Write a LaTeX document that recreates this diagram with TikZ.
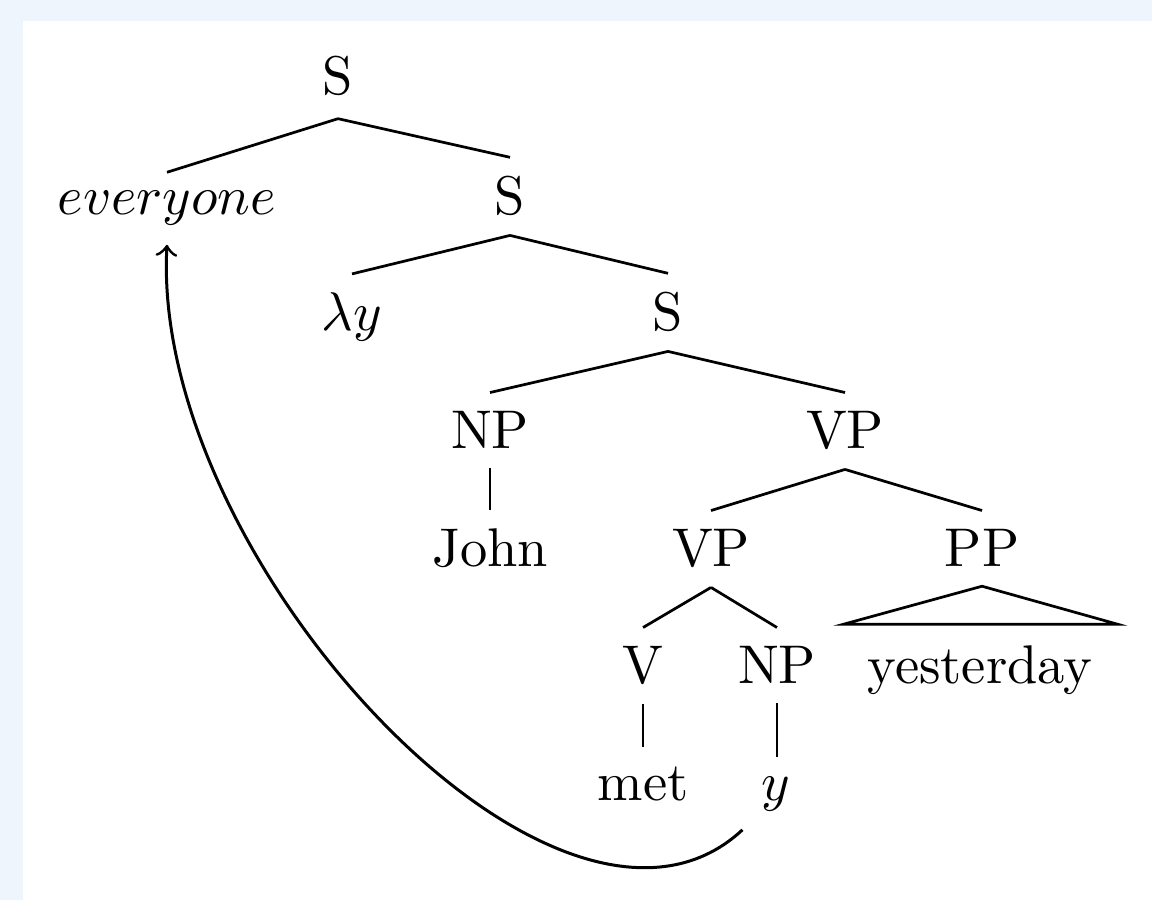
\documentclass[tikz,border=0pt]{standalone}
\definecolor{bgblue}{RGB}{238,245,253}
\begin{document}
\begin{tikzpicture}[x=0.1835pt,y=-0.1835pt,
  lab/.style={anchor=base, inner sep=3.33pt},
  branch/.style={draw=black, line width=0.5pt},
  move/.style={draw=black, line width=0.55pt, ->}]
\useasboundingbox (0,0) rectangle (1152,900);
\fill[bgblue] (0,0) rectangle (1152,900);
\fill[white] (23,21) rectangle (1152,900);
% nodes
\node[lab] (s1)   at (338,95)  {S};
\node[lab] (ev)   at (167,215) {$everyone$};
\node[lab] (s2)   at (510,215) {S};
\node[lab] (lam)  at (352,331) {$\lambda y$};
\node[lab] (s3)   at (668,331) {S};
\node[lab] (np)   at (490,449) {NP};
\node[lab] (vp)   at (845,449) {VP};
\node[lab] (john) at (490,567) {John};
\node[lab] (vp2)  at (711,567) {VP};
\node[lab] (pp)   at (982,567) {PP};
\node[lab] (v)    at (643,684) {V};
\node[lab] (np2)  at (777,684) {NP};
\node[lab] (yest) at (980,684) {yesterday};
\node[lab] (met)  at (643,800) {met};
\node[lab] (yy)   at (776,800) {$y$};
% branches
\path[branch] ([yshift=-0.6pt]s1.south) -- (ev.north);
\path[branch] ([yshift=-0.6pt]s1.south) -- (s2.north);
\path[branch] (s2.south) -- (lam.north);
\path[branch] (s2.south) -- (s3.north);
\path[branch] (s3.south) -- (np.north);
\path[branch] (s3.south) -- (vp.north);
\path[branch] (np.south) -- (np.south |- john.north);
\path[branch] (vp.south) -- (vp2.north);
\path[branch] (vp.south) -- (pp.north);
\path[branch] (vp2.south) -- (v.north);
\path[branch] (vp2.south) -- (np2.north);
\path[branch] (v.south) -- (v.south |- met.north);
\path[branch] (np2.south) -- (np2.south |- yy.north);
\path[branch] (pp.south) -- ([xshift=-0.9pt,yshift=0.5pt]yest.north west)
  -- ([xshift=1.1pt,yshift=0.5pt]yest.north east) -- cycle;
% movement arrow
\path[move] (yy.south west) .. controls (560,1000) and (150,560) .. (ev.south);
\end{tikzpicture}
\end{document}
